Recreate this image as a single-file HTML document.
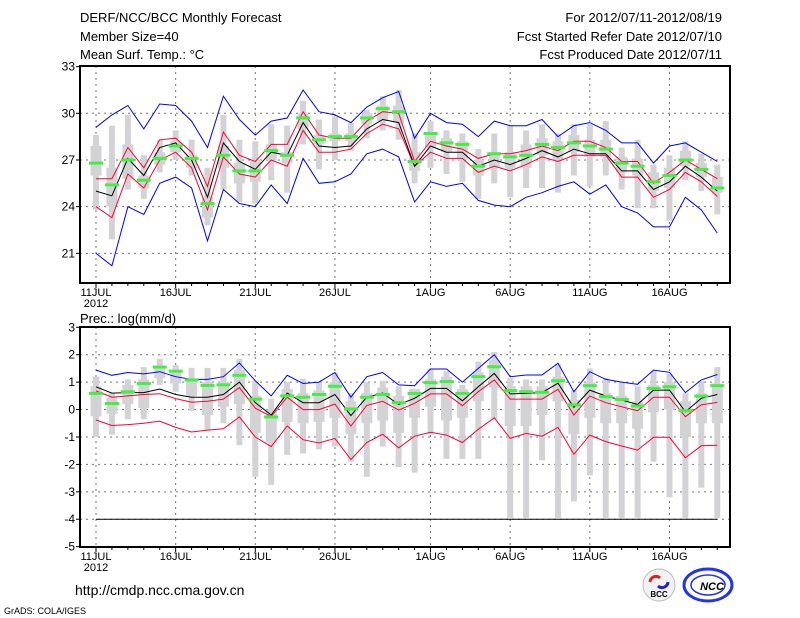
<!DOCTYPE html>
<html><head><meta charset="utf-8"><style>
html,body{margin:0;padding:0;background:#fff;}
body{width:800px;height:618px;overflow:hidden;position:relative;font-family:"Liberation Sans","DejaVu Sans",sans-serif;}
svg{position:absolute;left:0;top:0;}
text{font-family:"Liberation Sans","DejaVu Sans",sans-serif;fill:#000;}
</style></head><body>
<svg id="chart" width="800" height="618" viewBox="0 0 800 618" xmlns="http://www.w3.org/2000/svg">
<text x="80" y="22" font-size="13">DERF/NCC/BCC Monthly Forecast</text>
<text x="80" y="41" font-size="13">Member Size=40</text>
<text x="80" y="59" font-size="13">Mean Surf. Temp.: °C</text>
<text x="722" y="22" font-size="13" text-anchor="end">For 2012/07/11-2012/08/19</text>
<text x="722" y="41" font-size="13" text-anchor="end">Fcst Started Refer Date 2012/07/10</text>
<text x="722" y="59" font-size="13" text-anchor="end">Fcst Produced Date 2012/07/11</text>
<text x="80" y="323" font-size="13">Prec.: log(mm/d)</text>
<text x="75" y="595" font-size="14">http://cmdp.ncc.cma.gov.cn</text>
<text x="4" y="614" font-size="9">GrADS: COLA/IGES</text>
<g>
<circle cx="659" cy="585" r="16" fill="#f2f2f2" stroke="#bbb"/>
<path d="M650 582 a6 6 0 0 1 10 -4" stroke="#d22" stroke-width="3" fill="none"/>
<path d="M668 582 a6 6 0 0 1 -10 4" stroke="#22c" stroke-width="3" fill="none"/>
<text x="659" y="597" font-size="8" text-anchor="middle" font-weight="bold" fill="#226">BCC</text>
</g>
<g>
<ellipse cx="708" cy="585" rx="24" ry="16" fill="#fff" stroke="#2233ee" stroke-width="3"/>
<ellipse cx="708" cy="585" rx="17" ry="10" fill="none" stroke="#2233ee" stroke-width="1.5"/>
<text x="712" y="590" font-size="11" font-style="italic" font-weight="bold" text-anchor="middle" fill="#2233ee">NCC</text>
</g>
<g id="plots"></g>
</svg>
<script>
// ---- Temperature panel data (days 11JUL..19AUG) ----
const days = ["11JUL","12JUL","13JUL","14JUL","15JUL","16JUL","17JUL","18JUL","19JUL","20JUL","21JUL","22JUL","23JUL","24JUL","25JUL","26JUL","27JUL","28JUL","29JUL","30JUL","31JUL","1AUG","2AUG","3AUG","4AUG","5AUG","6AUG","7AUG","8AUG","9AUG","10AUG","11AUG","12AUG","13AUG","14AUG","15AUG","16AUG","17AUG","18AUG","19AUG"];
const xTickLabels = ["11JUL","16JUL","21JUL","26JUL","1AUG","6AUG","11AUG","16AUG"];
const tYTicks = [21,24,27,30,33];
const tMax = [29.1,29.9,30.5,29.0,30.6,30.5,29.5,27.8,31.1,29.6,28.6,29.5,29.7,31.5,30.1,29.9,29.4,30.4,31.0,31.4,28.4,30.0,29.4,29.3,28.5,29.5,29.2,29.2,29.6,28.5,29.2,29.4,28.9,28.1,28.1,26.8,27.9,28.1,27.5,26.9];
const tMin = [21.0,20.2,24.0,23.5,25.5,25.9,25.2,21.8,25.1,24.2,24.0,25.4,24.2,27.1,25.5,25.6,26.1,27.4,27.7,27.2,24.3,25.6,25.3,25.5,24.4,24.1,24.0,24.6,24.9,25.3,25.6,24.8,25.4,24.0,23.6,22.7,22.7,24.6,23.8,22.3];
const tUp = [25.8,25.8,27.8,26.5,28.3,28.4,27.5,25.3,28.8,27.3,26.9,28.0,28.0,30.1,28.6,28.4,28.4,29.5,30.1,30.0,26.9,28.2,27.9,27.7,27.1,27.4,27.4,27.6,27.9,27.6,28.2,28.2,27.8,26.9,26.9,25.5,26.2,27.0,26.4,25.8];
const tLow = [24.0,23.3,26.1,25.2,27.0,27.5,26.5,23.8,27.2,26.1,25.9,27.0,26.6,28.9,27.5,27.5,27.7,28.7,29.3,29.0,26.6,27.5,27.1,27.1,26.2,26.6,26.3,26.7,27.2,26.9,27.3,27.3,27.3,25.9,25.9,24.6,25.1,26.2,25.6,24.65];
const tMean = [25.0,24.7,27.1,26.0,27.8,28.1,27.0,24.6,28.1,26.9,26.4,27.5,27.3,29.4,27.9,27.8,27.9,29.0,29.6,29.4,26.6,27.9,27.5,27.5,26.6,27.0,26.7,27.1,27.6,27.2,27.7,27.4,27.4,26.3,26.3,25.1,25.6,26.6,25.9,25.0];
const tObs = [26.8,25.4,27.0,25.7,27.1,27.9,27.1,24.2,27.3,26.3,26.3,27.6,27.3,29.7,28.3,28.5,28.5,29.7,30.3,30.1,26.9,28.7,28.1,28.0,26.6,27.4,27.2,27.3,28.0,27.8,28.1,27.9,27.7,26.8,26.6,25.6,26.0,27.0,26.4,25.2];
const tLo = [23.8,21.9,25.1,24.5,26.2,27.0,26.0,22.8,25.1,24.3,24.2,25.7,24.9,28.0,26.4,27.0,27.6,28.4,28.9,28.3,25.5,26.5,26.1,25.6,24.5,25.5,24.6,25.2,25.2,24.9,26.0,25.3,26.0,25.1,23.9,23.9,23.1,25.7,25.0,23.5];
const tHi = [28.6,29.2,29.9,27.3,28.3,28.9,28.3,26.5,29.9,28.3,28.2,29.3,29.2,30.8,29.6,29.8,29.4,30.2,31.1,31.5,28.7,29.5,28.9,28.7,27.7,28.7,29.2,28.9,29.3,28.7,29.3,29.3,29.5,27.8,28.3,26.7,27.3,28.2,27.4,26.7];
const tQ1 = [26.0,24.0,25.8,25.2,26.7,27.5,26.5,23.3,26.5,25.5,25.6,27.0,26.8,29.0,28.0,28.2,28.2,29.3,29.5,29.4,26.3,27.8,27.5,27.0,26.0,26.5,26.5,26.5,27.3,27.0,27.5,27.2,27.2,26.2,26.0,25.0,25.2,26.6,25.9,24.9];
const tQ3 = [27.9,26.5,28.0,26.0,27.5,28.2,27.3,24.6,27.9,26.8,27.0,28.0,27.5,30.0,28.6,28.7,28.7,30.0,30.5,30.5,27.5,28.8,28.4,28.2,27.0,27.5,27.5,28.0,28.4,28.2,28.6,28.3,28.3,27.2,27.1,26.2,26.5,27.6,26.8,25.9];
// ---- Precipitation panel data ----
const pYTicks = [-5,-4,-3,-2,-1,0,1,2,3];
const pMax = [1.44,1.25,1.35,1.3,1.38,1.2,1.1,1.1,1.2,1.7,1.05,0.5,1.25,0.95,1.0,1.35,0.45,1.2,1.35,0.9,0.87,1.48,1.48,1.0,1.5,2.0,1.2,1.26,1.26,1.69,0.65,1.38,1.1,1.0,0.92,1.44,1.36,0.62,1.08,1.28];
const pMinLine = [-4,-4,-4,-4,-4,-4,-4,-4,-4,-4,-4,-4,-4,-4,-4,-4,-4,-4,-4,-4,-4,-4,-4,-4,-4,-4,-4,-4,-4,-4,-4,-4,-4,-4,-4,-4,-4,-4,-4,-4];
const pMean = [0.83,0.6,0.62,0.62,0.75,0.55,0.45,0.45,0.55,1.0,0.25,-0.2,0.6,0.25,0.25,0.55,-0.22,0.45,0.6,0.18,0.41,0.77,0.77,0.32,0.83,1.32,0.57,0.59,0.62,0.96,0.08,0.71,0.49,0.35,0.19,0.71,0.71,-0.08,0.41,0.55];
const pUp = [0.68,0.45,0.5,0.55,0.58,0.4,0.27,0.3,0.38,0.8,0.05,-0.25,0.45,0.0,0.0,0.2,-0.6,0.15,0.3,-0.02,0.23,0.57,0.57,0.14,0.65,1.08,0.38,0.38,0.38,0.74,-0.2,0.49,0.25,0.1,-0.04,0.45,0.45,-0.26,0.17,0.26];
const pLow = [-0.38,-0.58,-0.55,-0.5,-0.42,-0.65,-0.82,-0.75,-0.7,-0.27,-1.0,-1.35,-0.6,-1.1,-1.22,-1.05,-1.82,-1.2,-0.9,-1.4,-0.97,-0.83,-0.93,-1.2,-0.72,-0.3,-1.05,-0.87,-0.97,-0.65,-1.63,-0.93,-1.17,-1.33,-1.48,-1.01,-1.01,-1.76,-1.32,-1.3];
const pObs = [0.59,0.22,0.65,0.95,1.55,1.4,1.08,0.88,0.9,1.25,0.38,-0.27,0.5,0.45,0.55,0.85,0.02,0.45,0.55,0.25,0.59,0.98,1.02,0.59,1.2,1.56,0.69,0.65,0.63,1.05,0.17,0.87,0.47,0.37,0.13,0.77,0.83,-0.04,0.49,0.87];
const pLo = [-1.0,-0.92,-0.35,-0.35,0.9,0.65,-0.05,-0.75,-0.5,-1.3,-2.45,-2.75,-1.65,-1.6,-1.45,-1.35,-1.9,-2.45,-1.35,-2.1,-2.3,-0.9,-1.8,-1.8,-1.8,-0.35,-3.95,-3.95,-1.85,-3.95,-3.35,-2.4,-3.95,-3.95,-3.95,-1.9,-3.2,-3.95,-2.85,-3.95];
const pHi = [1.2,0.6,1.1,1.55,1.85,1.62,1.52,1.52,1.52,1.85,1.05,0.4,1.0,1.12,1.0,1.35,0.6,1.0,1.05,0.85,0.75,1.5,1.4,0.9,1.75,2.1,1.15,1.1,1.1,1.65,0.7,1.5,1.15,1.0,0.85,1.4,1.3,0.6,1.05,1.55];
const pQ1 = [-0.25,-0.15,0.2,0.05,1.15,0.95,0.5,-0.2,0.1,0.2,-0.85,-1.2,-0.45,-0.5,-0.45,-0.3,-0.9,-0.5,-0.4,-0.85,-0.3,0.1,-0.4,-0.3,0.3,0.8,-0.6,-0.6,-0.2,0.3,-0.9,-0.3,-0.5,-0.5,-0.7,-0.1,0.0,-1.0,-0.5,-0.5];
const pQ3 = [0.85,0.45,0.9,1.1,1.6,1.45,1.1,1.0,1.0,1.45,0.5,0.0,0.75,0.6,0.7,1.0,0.3,0.6,0.8,0.5,0.75,1.1,1.2,0.75,1.35,1.8,0.85,0.85,0.85,1.2,0.35,1.0,0.6,0.5,0.3,0.9,1.0,0.3,0.6,0.95];

const NS="http://www.w3.org/2000/svg";
const root=document.getElementById('plots');
const X0=96, DX=15.93, LEFT=80, RIGHT=730;
function xDay(i){return X0+DX*i;}
function tY(v){return 113.3-(v-30)*15.56;}
function pY(v){return 327.3+(3-v)*27.42;}
function mk(tag,attrs){const e=document.createElementNS(NS,tag);for(const k in attrs)e.setAttribute(k,attrs[k]);return e;}

function panel(top,bottom,yf,yTicks,name,lo,hi,q1,q3,obs,lines){
  const g=mk('g',{});
  
  
  root.appendChild(g);
  // gridlines
  xTickLabels.forEach((lab)=>{
    const i=days.indexOf(lab);const x=xDay(i);
    const l=mk('line',{x1:x,x2:x,y1:top,y2:bottom,stroke:'#777','stroke-dasharray':'2,4','stroke-width':1});
    
    
    g.appendChild(l);
    const t=mk('text',{x:x,y:bottom+13,'font-size':11,'text-anchor':'middle'});
    t.textContent=lab;
    
    
    g.appendChild(t);
  });
  const y2012=mk('text',{x:xDay(0),y:bottom+24,'font-size':11,'text-anchor':'middle'});
  y2012.textContent='2012';
  
  
  g.appendChild(y2012);
  yTicks.forEach(v=>{
    const y=yf(v);
    if(y>top+2&&y<bottom-2){
      const l=mk('line',{x1:LEFT,x2:RIGHT,y1:y,y2:y,stroke:'#777','stroke-dasharray':'2,4','stroke-width':1});
      
      
      g.appendChild(l);
    }
    const t=mk('text',{x:LEFT-5,y:y+4,'font-size':12,'text-anchor':'end'});
    t.textContent=String(v);
    
    
    g.appendChild(t);
    const tk=mk('line',{x1:LEFT-4,x2:LEFT,y1:y,y2:y,stroke:'#000'});
    g.appendChild(tk);
  });
  // gray boxes
  days.forEach((d,i)=>{
    const x=xDay(i);
    const r=mk('rect',{x:x-3,y:yf(hi[i]),width:6,height:Math.max(1,yf(lo[i])-yf(hi[i])),fill:'#d3d3d6'});
    
    
    g.appendChild(r);
    const b=mk('rect',{x:x-5.5,y:yf(q3[i]),width:11,height:Math.max(1,yf(q1[i])-yf(q3[i])),fill:'#d3d3d6'});
    
    
    g.appendChild(b);
  });
  lines.forEach(([arr,col,nm])=>{
    const p=mk('polyline',{points:arr.map((v,i)=>xDay(i).toFixed(1)+','+yf(v).toFixed(1)).join(' '),fill:'none',stroke:col,'stroke-width':1});
    
    
    g.appendChild(p);
  });
  obs.forEach((v,i)=>{
    const r=mk('rect',{x:xDay(i)-7,y:yf(v)-1.5,width:14,height:3,fill:'#44ee44'});
    
    
    g.appendChild(r);
  });
  // x minor ticks
  days.forEach((d,i)=>{
    const tk=mk('line',{x1:xDay(i),x2:xDay(i),y1:bottom,y2:bottom+(xTickLabels.includes(d)?5:3),stroke:'#000'});
    g.appendChild(tk);
  });
  const f=mk('rect',{x:LEFT,y:top,width:RIGHT-LEFT,height:bottom-top,fill:'none',stroke:'#000','stroke-width':2});
  
  
  g.appendChild(f);
}
panel(66,283,tY,tYTicks,'temperature-panel',tLo,tHi,tQ1,tQ3,tObs,
  [[tMax,'#0000ff','max-line'],[tMin,'#0000ff','min-line'],[tUp,'#ff0033','upper-line'],[tLow,'#ff0033','lower-line'],[tMean,'#000','mean-line']]);
panel(327,547,pY,pYTicks,'precip-panel',pLo,pHi,pQ1,pQ3,pObs,
  [[pMax,'#0000ff','max-line'],[pMinLine,'#000','min-line'],[pUp,'#ff0033','upper-line'],[pLow,'#ff0033','lower-line'],[pMean,'#000','mean-line']]);
</script>
</body></html>
